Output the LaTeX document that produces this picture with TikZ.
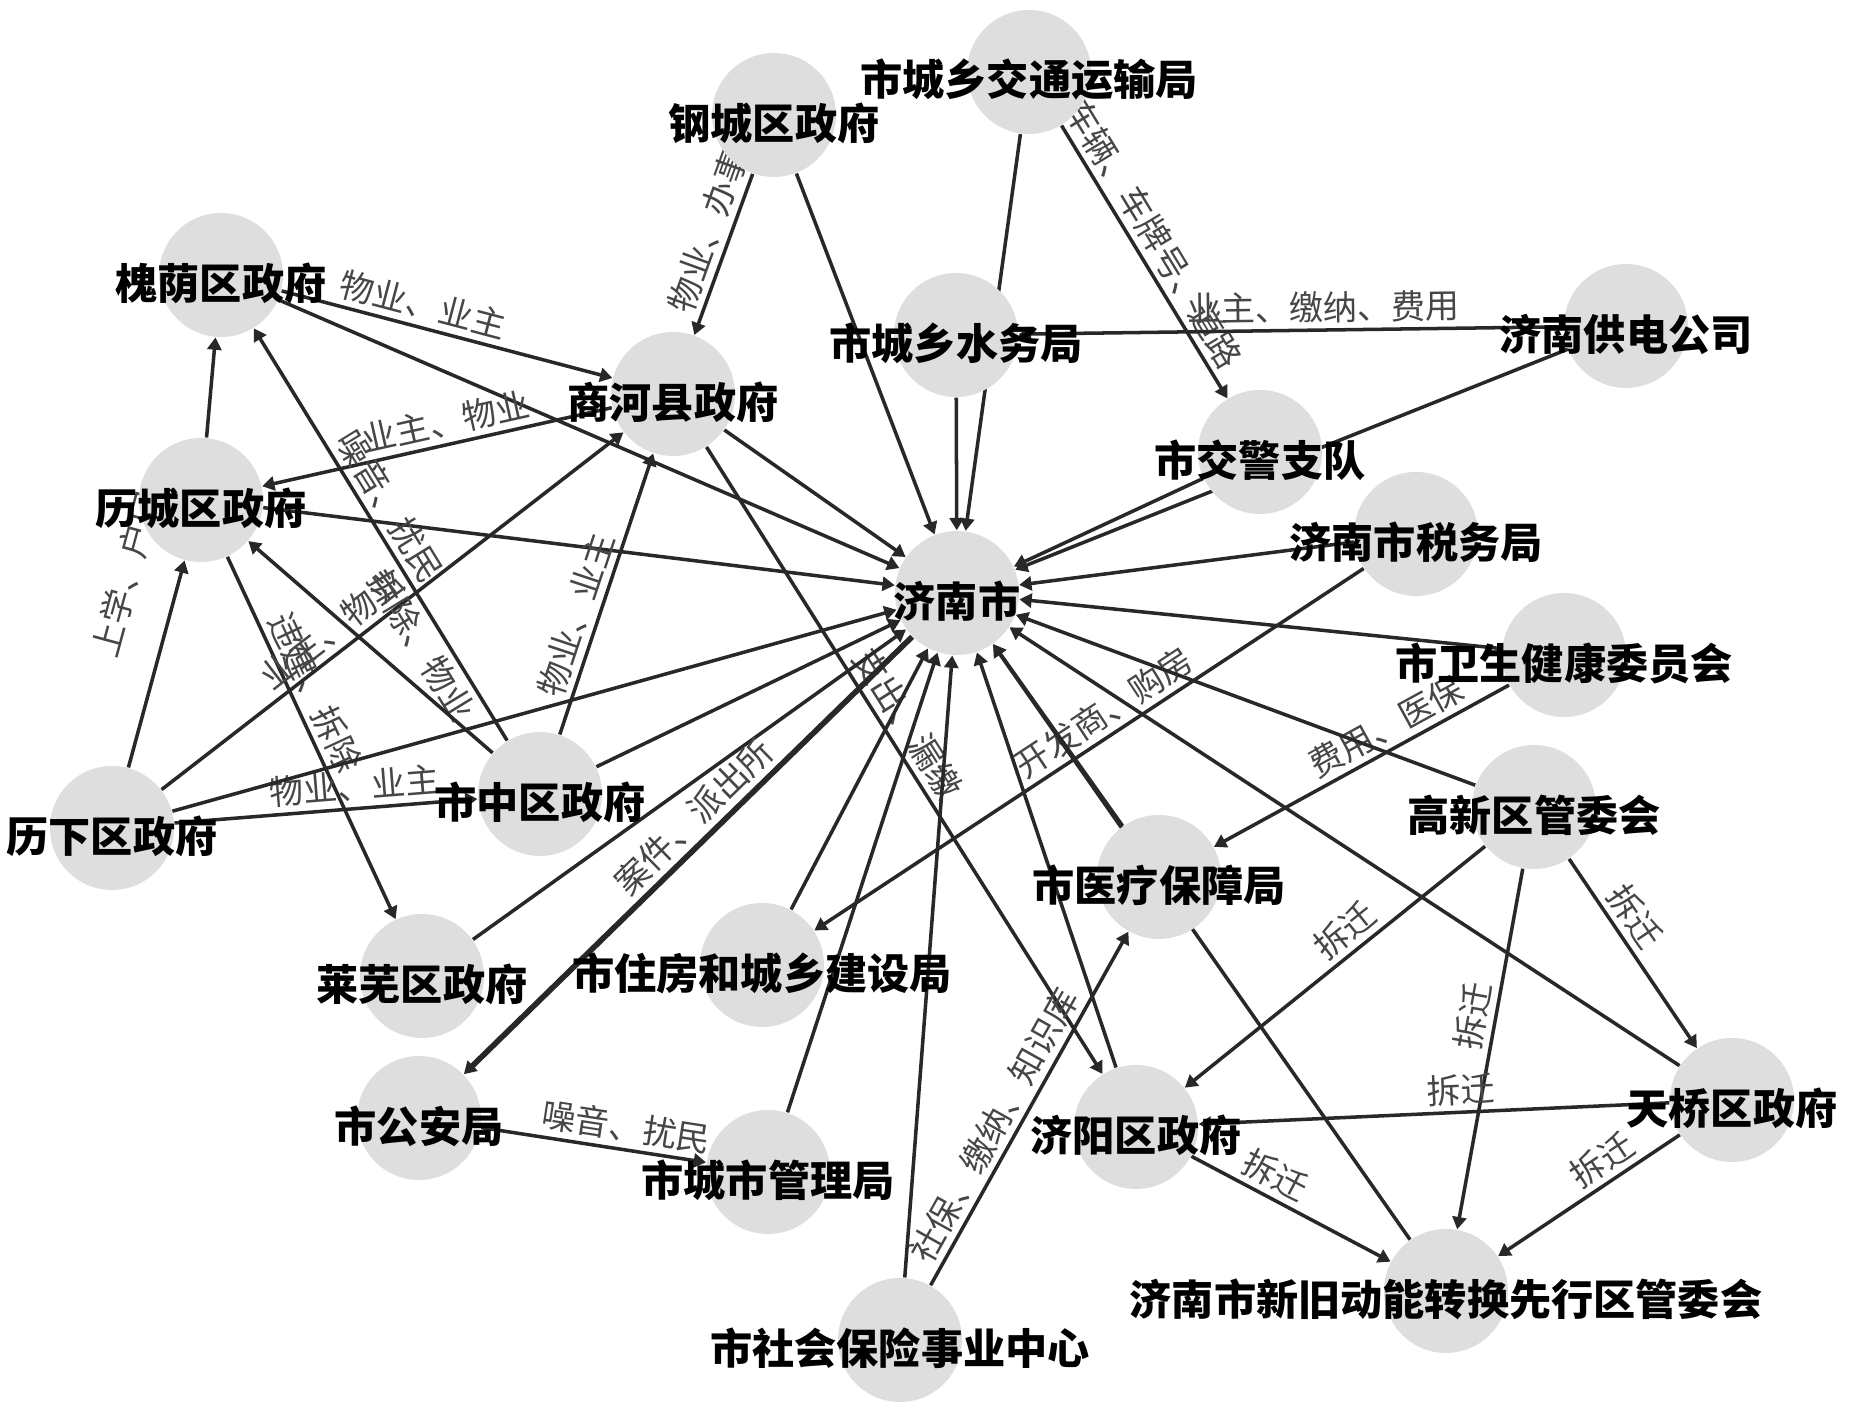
\documentclass[tikz,border=0pt]{standalone}
\usepackage{fontspec}
\setmainfont{Noto Sans CJK SC}
\usetikzlibrary{arrows.meta,backgrounds}

\definecolor{vfill}{RGB}{222,222,222}
\definecolor{ecol}{RGB}{40,40,40}
\definecolor{lcol}{RGB}{70,70,70}

\begin{document}
\begin{tikzpicture}[
	vert/.style={circle, fill=vfill, minimum size=1.24cm, inner sep=0pt},
	vname/.style={font=\fontsize{12}{14}\selectfont\bfseries, inner sep=0pt, yshift=-0.08cm},
	edge/.style={draw=ecol, line width=1pt, -{Triangle[length=3.5pt,width=4pt]}},
	lab/.style={font=\fontsize{9.7}{11}\selectfont, text=lcol, sloped, above, inner sep=1.5pt}
]
	\useasboundingbox (0,0) rectangle (18.52,14.12);

	% nodes
	\node[vert, label={[vname]center:济南市}] (jn) at (9.57,8.19) {};
	\node[vert, label={[vname]center:钢城区政府}] (gc) at (7.74,12.97) {};
	\node[vert, label={[vname]center:市城乡交通运输局}] (jt) at (10.29,13.40) {};
	\node[vert, label={[vname]center:槐荫区政府}] (hy) at (2.21,11.37) {};
	\node[vert, label={[vname]center:市城乡水务局}] (sw) at (9.56,10.77) {};
	\node[vert, label={[vname]center:济南供电公司}] (gd) at (16.26,10.86) {};
	\node[vert, label={[vname]center:商河县政府}] (sh) at (6.73,10.18) {};
	\node[vert, label={[vname]center:市交警支队}] (jj) at (12.60,9.60) {};
	\node[vert, label={[vname]center:历城区政府}] (lc) at (2.01,9.12) {};
	\node[vert, label={[vname]center:济南市税务局}] (sj) at (14.16,8.78) {};
	\node[vert, label={[vname]center:市卫生健康委员会}] (wj) at (15.64,7.57) {};
	\node[vert, label={[vname]center:历下区政府}] (lx) at (1.12,5.84) {};
	\node[vert, label={[vname]center:市中区政府}] (sz) at (5.40,6.18) {};
	\node[vert, label={[vname]center:高新区管委会}] (gx) at (15.34,6.05) {};
	\node[vert, label={[vname]center:市医疗保障局}] (yb) at (11.59,5.35) {};
	\node[vert, label={[vname]center:莱芜区政府}] (lw) at (4.22,4.36) {};
	\node[vert, label={[vname]center:市住房和城乡建设局}] (zj) at (7.62,4.47) {};
	\node[vert, label={[vname]center:天桥区政府}] (tq) at (17.32,3.12) {};
	\node[vert, label={[vname]center:市公安局}] (ga) at (4.19,2.94) {};
	\node[vert, label={[vname]center:市城市管理局}] (cg) at (7.68,2.40) {};
	\node[vert, label={[vname]center:济阳区政府}] (jy) at (11.36,2.85) {};
	\node[vert, label={[vname]center:济南市新旧动能转换先行区管委会}] (xj) at (14.46,1.21) {};
	\node[vert, label={[vname]center:市社会保险事业中心}] (sb) at (9.00,0.72) {};

	% edges
	\begin{scope}[on background layer]
	\draw[edge] (gc) -- node[lab,pos=.4]{物业、办事} (sh);
	\draw[edge] (gc) -- (jn);
	\draw[edge] (jt) -- (jn);
	\draw[edge] (jt) -- node[lab,pos=.44]{车辆、车牌号、道路} (jj);
	\draw[edge] (sw) -- (jn);
	\draw[edge] (gd) -- node[lab,pos=.44]{业主、缴纳、费用} (sw);
	\draw[edge] (gd) -- (jn);
	\draw[edge] (hy) -- node[lab,pos=.41]{物业、业主} (sh);
	\draw[edge] (hy) -- (jn);
	\draw[edge] (lc) -- (hy);
	\draw[edge] (sh) -- node[lab,pos=.46]{业主、物业} (lc);
	\draw[edge] (sh) -- (jn);
	\draw[edge] (sh) -- node[lab,pos=.46]{支出、漏缴} (jy);
	\draw[edge] (lc) -- (jn);
	\draw[edge] (lc) -- node[lab,pos=.4]{违建、拆除} (lw);
	\draw[edge] (lx) -- node[lab,pos=.87,outer ysep=9pt]{上学、户口} (lc);
	\draw[edge] (lx) -- node[lab,pos=.4]{业主、物业} (sh);
	\draw[edge] (lx) -- node[lab,pos=.6]{物业、业主} (sz);
	\draw[edge] (lx) -- (jn);
	\draw[edge] (sz) -- node[lab,pos=.54]{噪音、扰民} node[lab,below,pos=.26]{拆除、物业} (hy);
	\draw[edge] (sz) -- (lc);
	\draw[edge] (sz) -- node[lab,pos=.4]{物业、业主} (sh);
	\draw[edge] (sz) -- (jn);
	\draw[edge] (lw) -- (jn);
	\draw[edge,line width=1.6pt] (jn) -- node[lab,pos=.45]{案件、派出所} (ga);
	\draw[edge] (ga) -- node[lab,pos=.63]{噪音、扰民} (cg);
	\draw[edge] (zj) -- (jn);
	\draw[edge] (cg) -- (jn);
	\draw[edge] (sb) -- (jn);
	\draw[edge] (sb) -- node[lab,pos=.42]{社保、缴纳、知识库} (yb);
	\draw[edge] (sj) -- (jn);
	\draw[edge] (sj) -- node[lab,pos=.45]{开发商、购房} (zj);
	\draw[edge] (jj) -- (jn);
	\draw[edge] (wj) -- (jn);
	\draw[edge] (wj) -- node[lab,pos=.38]{费用、医保} (yb);
	\draw[edge] (gx) -- (jn);
	\draw[edge] (tq) -- (jn);
	\draw[edge] (yb) -- (jn);
	\draw[edge] (xj) -- (jn);
	\draw[edge] (jy) -- (jn);
	\draw[edge] (gx) -- node[lab,pos=.42]{拆迁} (jy);
	\draw[edge] (gx) -- node[lab,pos=.42]{拆迁} (xj);
	\draw[edge] (gx) -- node[lab,pos=.37]{拆迁} (tq);
	\draw[edge] (tq) -- node[lab,pos=.36]{拆迁} (xj);
	\draw[edge] (jy) -- node[lab,pos=.37]{拆迁} (xj);
	\draw[edge] (tq) -- node[lab,pos=.44]{拆迁} (jy);
	\end{scope}

\end{tikzpicture}
\end{document}
